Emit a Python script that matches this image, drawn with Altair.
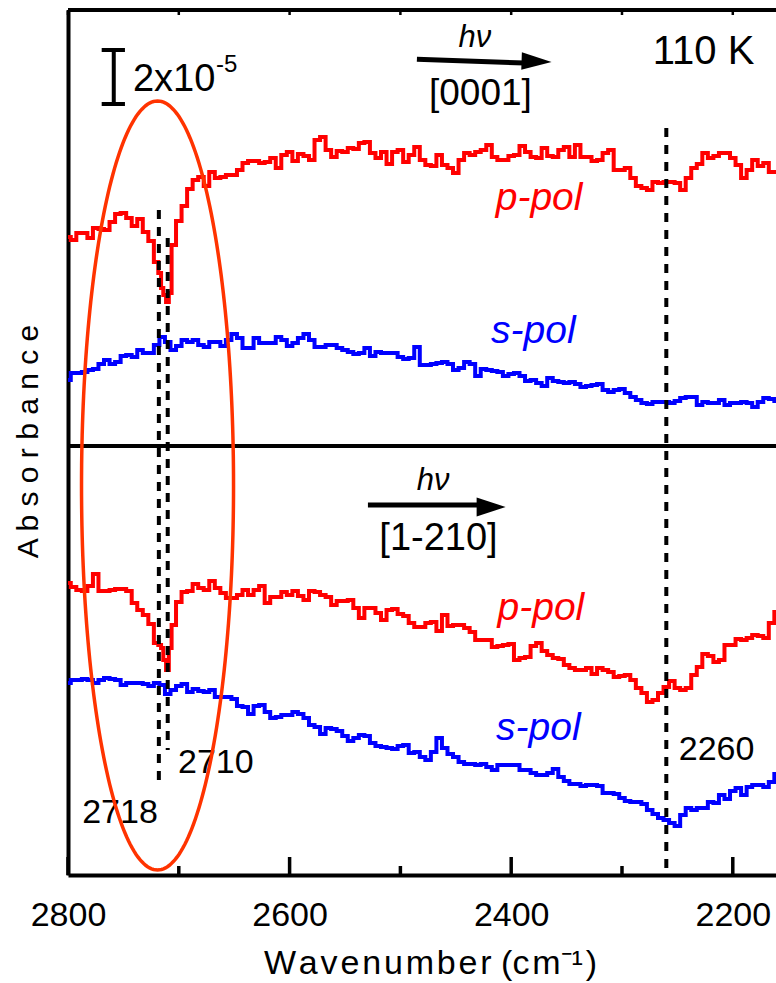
import numpy as np
import pandas as pd
import altair as alt

FONT = "Liberation Sans"

# ---------------- data ----------------
# main grid (cm-1)
WN = [2800, 2790, 2780, 2770, 2760, 2750, 2740,
      2735, 2730, 2725, 2720, 2715, 2710, 2705, 2700, 2695, 2690, 2685] + list(range(2680, 2150, -10))
# intermediate points (cm-1)
WN_HALF = [2795, 2785, 2775, 2765, 2755, 2745] + list(range(2675, 2160, -10))
# extra points inside the narrow 2718/2710 dips (p-pol only)
WN_DIP = [2717, 2713, 2708]

# absorbance, arbitrary units (vertically offset traces)
TOP_P = [638, 642, 637, 646, 653, 662, 649,
         656, 643, 634, 613, 587, 573, 630, 654, 669, 686, 695,
         698, 703, 698, 700, 712, 714, 713, 707, 723, 721, 715, 738, 718, 723, 726, 733, 717, 711,
         725, 720, 715, 709, 710, 702, 722, 723, 730, 715, 719, 729, 718, 727, 718, 728, 730, 718,
         715, 725, 705, 697, 687, 693, 693, 692, 697, 711, 717, 722, 717, 697, 715, 712, 703]
TOP_P_HALF = [635, 642, 647, 645, 661, 657,
              689, 697, 700, 705, 714, 712, 717, 720, 714, 719, 735, 725, 724, 727, 732, 722, 723, 723,
              713, 728, 710, 720, 707, 715, 720, 725, 718, 715, 720, 723, 717, 719, 725, 718, 718, 714,
              722, 705, 707, 689, 685, 692, 693, 685, 707, 722, 719, 722, 710, 705, 709, 703]
TOP_P_DIP = [602, 580, 582]

TOP_S = [495, 502, 505, 511, 511, 519, 518,
         525, 522, 522, 530, 538, 533, 525, 529, 535, 533, 535,
         530, 533, 529, 541, 527, 537, 532, 538, 529, 537, 535, 528, 530, 525, 521, 527, 523, 522,
         518, 517, 510, 511, 513, 505, 513, 499, 505, 503, 501, 499, 495, 489, 494, 492, 491, 489,
         491, 483, 486, 478, 472, 473, 473, 474, 478, 470, 472, 475, 472, 473, 468, 477, 474]
TOP_S_HALF = [502, 503, 506, 515, 513, 520,
              528, 533, 535, 537, 527, 532, 532, 535, 532, 541, 528, 530, 527, 523, 522, 519, 522, 522,
              516, 528, 510, 512, 511, 507, 511, 506, 504, 499, 502, 494, 492, 497, 493, 493, 488, 490,
              485, 485, 482, 475, 471, 473, 472, 477, 478, 473, 472, 470, 472, 472, 473, 476]

BOT_P = [292, 285, 289, 284, 285, 286, 272,
         265, 260, 251, 232, 227, 205, 250, 273, 283, 284, 291,
         287, 294, 282, 277, 285, 285, 272, 278, 280, 279, 284, 280, 270, 274, 267, 267, 262, 265,
         261, 252, 248, 253, 260, 250, 247, 235, 235, 229, 231, 217, 229, 224, 217, 210, 205, 207,
         207, 203, 199, 195, 182, 175, 188, 187, 187, 208, 219, 215, 230, 235, 240, 237, 263]
BOT_P_HALF = [288, 284, 301, 284, 286, 284,
              285, 287, 277, 280, 280, 289, 278, 283, 284, 275, 283, 278, 274, 275, 257, 267, 255, 266,
              259, 248, 252, 244, 249, 250, 243, 235, 228, 230, 215, 218, 232, 220, 216, 207, 205, 201,
              205, 198, 200, 187, 173, 182, 194, 185, 200, 221, 213, 230, 236, 237, 239, 252]
BOT_P_DIP = [230, 215, 227]

BOT_S = [192, 195, 195, 195, 196, 190, 192,
         192, 191, 189, 192, 190, 181, 185, 189, 191, 183, 186,
         184, 185, 178, 176, 168, 169, 163, 158, 160, 161, 150, 141, 146, 139, 137, 139, 129, 127,
         129, 122, 118, 123, 127, 118, 111, 110, 108, 110, 110, 105, 102, 100, 106, 94, 91, 90,
         89, 82, 77, 73, 71, 61, 55, 49, 67, 67, 73, 80, 84, 80, 90, 88, 101]
BOT_S_HALF = [195, 196, 192, 197, 195, 192,
              183, 178, 178, 169, 161, 170, 157, 160, 163, 157, 148, 147, 144, 134, 140, 132, 128, 126,
              130, 123, 115, 137, 121, 113, 111, 111, 105, 110, 110, 105, 100, 102, 98, 91, 89, 90,
              82, 81, 74, 73, 65, 57, 52, 60, 65, 67, 72, 76, 87, 88, 90, 93]

SERIES = ["[0001] p-pol", "[0001] s-pol", "[1-210] p-pol", "[1-210] s-pol"]
SERIES_VALUES = [(TOP_P, TOP_P_HALF, TOP_P_DIP), (TOP_S, TOP_S_HALF, []),
                 (BOT_P, BOT_P_HALF, BOT_P_DIP), (BOT_S, BOT_S_HALF, [])]
SERIES_COLORS = ["#ff0000", "#0000ff", "#ff0000", "#0000ff"]

# peak markers (dashed)
PEAK_WN = [2718, 2710, 2260]
PEAK_TOP = [665, 637, 747]
PEAK_BOT = [88, 125, 3]

PANEL_SPLIT = 429
FRAME_TOP = 865

MAJOR_TICKS = [2800, 2600, 2400, 2200]
MINOR_TICKS = [2700, 2500, 2300]
TOP_TICKS = [2800, 2700, 2600, 2500, 2400, 2300, 2200]

# ---------------- tables ----------------
rows = []
for name, (vals, halves, dips) in zip(SERIES, SERIES_VALUES):
    for grid, values in ((WN, vals), (WN_HALF, halves), (WN_DIP, dips)):
        for w, v in zip(grid, values):
            rows.append({"wn": w, "val": v, "series": name})
df_lines = pd.DataFrame(rows).sort_values(["series", "wn"], ascending=[True, False])

df_peaks = pd.DataFrame({"wn": PEAK_WN, "val": PEAK_TOP, "val2": PEAK_BOT})
df_split = pd.DataFrame({"val": [PANEL_SPLIT]})
df_top = pd.DataFrame({"val": [FRAME_TOP]})
df_major = pd.DataFrame({"wn": MAJOR_TICKS, "val": [0] * 4, "val2": [18] * 4})
df_minor = pd.DataFrame({"wn": MINOR_TICKS, "val": [0] * 3, "val2": [9] * 3})
df_topt = pd.DataFrame({"wn": TOP_TICKS, "val": [FRAME_TOP] * 7, "val2": [FRAME_TOP - 5] * 7})

# scale bar 2x10^-5
df_bar_v = pd.DataFrame({"wn": [2758.7], "val": [771], "val2": [825]})
df_bar_h = pd.DataFrame({"wn": [2769.6, 2769.6], "wn2": [2748.6, 2748.6], "val": [825, 771]})

# arrows
df_shaft = pd.DataFrame({"wn": [2485.1, 2529.3], "wn2": [2388.0, 2425.0],
                         "val": [815.7, 370.0], "val2": [812.0, 370.0]})
df_head1 = pd.DataFrame({"wn": [2377.1], "val": [813.5]})
df_head2 = pd.DataFrame({"wn": [2418.1], "val": [368.0]})

# texts
df_txt_left = pd.DataFrame({
    "text": ["2x10", "-5", "110 K"],
    "wn": [2741.4, 2666.5, 2272.2],
    "val": [784, 803, 811],
    "size": [38, 24, 40],
})
df_txt_center = pd.DataFrame({
    "text": ["[0001]", "[1-210]", "2718", "2710", "2260"],
    "wn": [2427.8, 2465.6, 2753.1, 2666.6, 2214.6],
    "val": [770, 325, 52, 102, 115],
    "size": [37, 38, 34, 34, 34],
})
df_txt_ital = pd.DataFrame({
    "text": ["h\u03bd", "h\u03bd", "p-pol", "s-pol", "p-pol", "s-pol"],
    "wn": [2432.8, 2470.4, 2374.8, 2380.0, 2373.2, 2375.5],
    "val": [828, 385, 665, 532, 255, 135],
    "size": [31, 31, 39, 39, 39, 39],
    "color": ["black", "black", "#ff0000", "#0000ff", "#ff0000", "#0000ff"],
})

# ellipse around the 2718/2710 features
ELL_CX, ELL_CY, ELL_RX, ELL_RY = 2719.2, 389.5, 68.6, 384.5
t = np.linspace(0, 2 * np.pi, 241)
df_ell = pd.DataFrame({"wn": ELL_CX + ELL_RX * np.cos(t),
                       "val": ELL_CY + ELL_RY * np.sin(t),
                       "i": np.arange(len(t))})

# ---------------- encodings ----------------
H = "\u200a"
x_title = H.join("Wavenumber") + " (" + H.join("cm") + "\u207b\u00b9" + H + ")"

xscale = alt.Scale(domain=[2161, 2800], reverse=True, nice=False, zero=False)
xaxis = alt.Axis(values=MAJOR_TICKS, format="d", ticks=False, tickSize=0, grid=False,
                 labelFont=FONT, labelFontSize=34, labelColor="black", labelPadding=50,
                 labelBaseline="alphabetic", labelFlush=False, labelOverlap=False,
                 domainWidth=4, domainColor="black",
                 title=x_title, titleFont=FONT, titleFontSize=34, titleFontWeight="normal",
                 titleColor="black", titleX=362, titleY=98, titleAlign="center",
                 titleBaseline="alphabetic")
yscale = alt.Scale(domain=[0, 865], nice=False, zero=False)
yaxis = alt.Axis(labels=False, ticks=False, tickSize=0, grid=False,
                 domainWidth=4, domainColor="black",
                 title=" ".join("Absorbance"), titleFont=FONT, titleFontSize=30,
                 titleFontWeight="normal", titleColor="black", titleAngle=270,
                 titleX=-31, titleY=431, titleAlign="center", titleBaseline="alphabetic")


def X(f="wn"):
    return alt.X(f"{f}:Q", scale=xscale, axis=xaxis)


def Y(f="val"):
    return alt.Y(f"{f}:Q", scale=yscale, axis=yaxis)


lines = alt.Chart(df_lines).mark_line(strokeWidth=4, clip=True, interpolate="step").encode(
    x=X(), y=Y(),
    color=alt.Color("series:N", scale=alt.Scale(domain=SERIES, range=SERIES_COLORS), legend=None),
)
peaks = alt.Chart(df_peaks).mark_rule(strokeWidth=4, strokeDash=[9, 8], color="black").encode(
    x=X(), y=Y(), y2="val2:Q")
split = alt.Chart(df_split).mark_rule(strokeWidth=4, color="black").encode(y=Y())
topline = alt.Chart(df_top).mark_rule(strokeWidth=4, color="black").encode(y=Y())
major = alt.Chart(df_major).mark_rule(strokeWidth=3.5, color="black").encode(x=X(), y=Y(), y2="val2:Q")
minor = alt.Chart(df_minor).mark_rule(strokeWidth=3.5, color="black").encode(x=X(), y=Y(), y2="val2:Q")
topt = alt.Chart(df_topt).mark_rule(strokeWidth=2.5, color="black").encode(x=X(), y=Y(), y2="val2:Q")
bar_v = alt.Chart(df_bar_v).mark_rule(strokeWidth=4, color="black").encode(x=X(), y=Y(), y2="val2:Q")
bar_h = alt.Chart(df_bar_h).mark_rule(strokeWidth=4, color="black").encode(x=X(), x2="wn2:Q", y=Y())
shaft = alt.Chart(df_shaft).mark_rule(strokeWidth=5, color="black").encode(
    x=X(), x2="wn2:Q", y=Y(), y2="val2:Q")
head1 = alt.Chart(df_head1).mark_point(shape="M-1,-0.58L1,0L-1,0.58Z", filled=True, size=900,
                                       angle=2, color="black", opacity=1).encode(x=X(), y=Y())
head2 = alt.Chart(df_head2).mark_point(shape="M-1,-0.65L1,0L-1,0.65Z", filled=True, size=841,
                                       color="black", opacity=1).encode(x=X(), y=Y())

txt_left = alt.Chart(df_txt_left).mark_text(align="left", baseline="alphabetic", font=FONT,
                                            color="black").encode(
    x=X(), y=Y(), text="text:N", size=alt.Size("size:Q", scale=None))
txt_center = alt.Chart(df_txt_center).mark_text(align="center", baseline="alphabetic", font=FONT,
                                                color="black").encode(
    x=X(), y=Y(), text="text:N", size=alt.Size("size:Q", scale=None))
txt_ital = alt.Chart(df_txt_ital).mark_text(align="center", baseline="alphabetic", font=FONT,
                                            fontStyle="italic").encode(
    x=X(), y=Y(), text="text:N", size=alt.Size("size:Q", scale=None),
    color=alt.Color("color:N", scale=None))

ellipse = alt.Chart(df_ell).mark_line(color="#ff3300", strokeWidth=3.5, clip=True).encode(
    x=X(), y=Y(), order="i:Q")

chart = alt.layer(
    lines, peaks, split, topline, major, minor, topt, bar_v, bar_h, shaft, head1, head2,
    txt_left, txt_center, txt_ital, ellipse
).properties(
    width=708, height=865,
    padding={"left": 68, "top": 10, "right": 0, "bottom": 108},
    autosize=alt.AutoSizeParams(type="none"),
).configure_view(stroke=None).configure(background="white")

chart.save("out.html", embed_options={"renderer": "svg", "actions": False})
